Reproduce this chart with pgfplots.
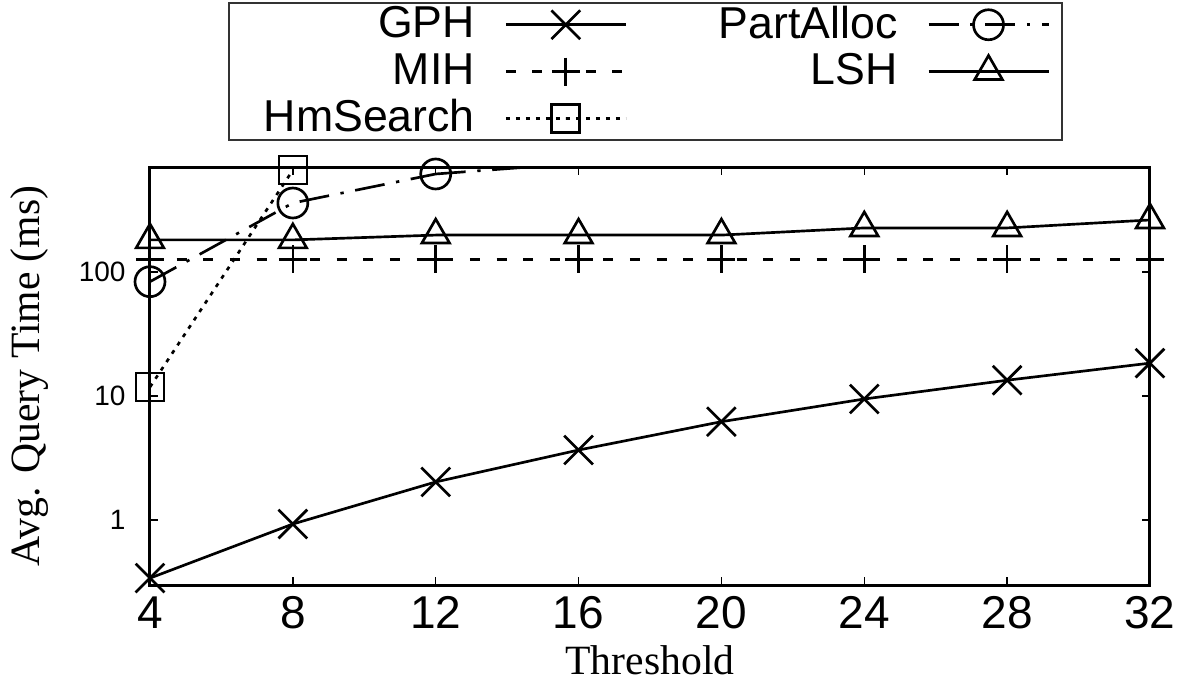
\documentclass[border=0pt]{standalone}
\usepackage{pgfplots}
\pgfplotsset{compat=1.18}
\usepackage{fontspec}
\setmainfont{Liberation Serif}
\setsansfont{Liberation Sans}

\begin{document}
\begin{tikzpicture}
\begin{axis}[
  at={(0,0)}, anchor=south west,
  scale only axis, width=300pt, height=125.4pt,
  ymode=log, log basis y=10,
  xmin=4, xmax=32, ymin=0.3, ymax=700,
  xtick={4,8,12,16,20,24,28,32}, xticklabels={4,8,12,16,20,24,28,32},
  ytick={1,10,100}, yticklabels={1,10,100},
  tick align=inside,
  major tick length=2.5pt, minor tick length=1.4pt,
  every tick/.style={black, line width=0.45pt},
  axis line style={line width=0.9pt},
  x tick label style={font=\fontsize{13.8}{14}\selectfont\sffamily},
  y tick label style={font=\fontsize{8.4}{9}\selectfont\sffamily, xshift=-3.8pt},
  xlabel={Threshold}, ylabel={Avg. Query Time (ms)},
  label style={font=\fontsize{12.5}{13}\selectfont\rmfamily},
  xlabel style={at={(axis description cs:0.5,-0.18)}, anchor=center},
  ylabel style={at={(axis description cs:-0.12,0.5)}, anchor=center},
  clip mode=individual,
  every axis plot/.append style={line width=0.8pt, black},
  legend columns=2, legend plot pos=right, legend cell align=right,
  legend style={at={(0.078,1.395)}, anchor=north west,
    font=\fontsize{13.4}{14}\selectfont\sffamily, draw=black!80, line width=0.5pt,
    inner xsep=3.7pt, inner ysep=0.9pt, row sep=2.8pt,
    nodes={inner ysep=0.1pt},
    /tikz/every odd column/.append style={column sep=6.9pt},
    /tikz/every even column/.append style={column sep=25.5pt}},
  legend image code/.code={\draw[mark repeat=2,mark phase=2,#1] plot coordinates {(0pt,0pt) (18pt,0pt) (36pt,0pt)};},
]
\addplot[mark=x, mark size=6.1pt] coordinates {(4,0.341)(8,0.93)(12,2.03)(16,3.67)(20,6.21)(24,9.46)(28,13.4)(32,18.4)};
\addlegendentry{GPH}
\addplot[dash pattern=on 9pt off 3.5pt on 1pt off 3.5pt, mark=o, mark size=4.5pt, mark options={solid}] coordinates {(4,83.4)(8,359)(12,615)};
\addlegendentry{PartAlloc}
\addplot[dash pattern=on 3pt off 5pt, mark=+, mark size=4.2pt, mark options={solid}] coordinates {(4,126)(8,126)(12,126)(16,126)(20,126)(24,126)(28,126)(32,126)};
\addlegendentry{MIH}
\addplot[mark=triangle, mark size=4.8pt] coordinates {(4,181)(8,181)(12,198)(16,198)(20,198)(24,226)(28,226)(32,262)};
\addlegendentry{LSH}
\addplot[dash pattern=on 1.2pt off 1.8pt, mark=square, mark size=4.2pt, mark options={solid}] coordinates {(4,11.8)(8,661)};
\addlegendentry{\hspace*{4.8pt}HmSearch}
\addplot[forget plot, dash pattern=on 9pt off 3.5pt on 1pt off 3.5pt, mark=none] coordinates {(12,615)(16,750)};
\end{axis}
\pgfresetboundingbox
\path[use as bounding box] (-45pt,-29.1pt) rectangle (309.3pt,175.5pt);
\end{tikzpicture}
\end{document}
